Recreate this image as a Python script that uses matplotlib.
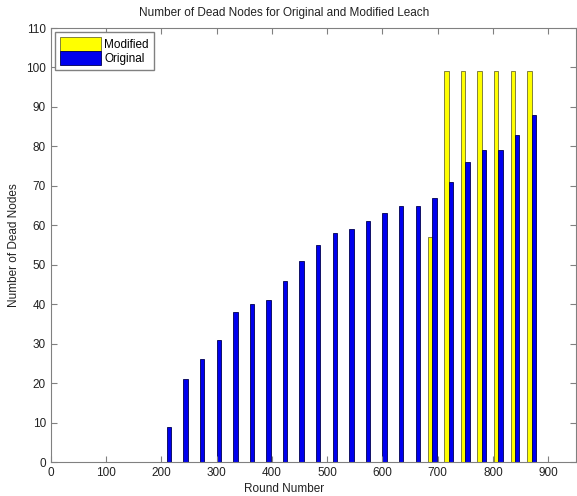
import numpy as np
import matplotlib
matplotlib.use("Agg")
import matplotlib.pyplot as plt

plt.rcParams["font.family"] = ["Liberation Sans", "DejaVu Sans"]

rounds = np.arange(210, 871, 30)
original = [9, 21, 26, 31, 38, 40, 41, 46, 51, 55, 58, 59, 61, 63, 65, 65,
            67, 71, 76, 79, 79, 83, 88]
modified = [0, 0, 0, 0, 0, 0, 0, 0, 0, 0, 0, 0, 0, 0, 0, 0,
            57, 99, 99, 99, 99, 99, 99]

fig = plt.figure(figsize=(5.77, 4.96), dpi=100)
ax = fig.add_axes([0.088, 0.0685, 0.91, 0.875])

w = 8
ax.bar(rounds - w / 2, modified, width=w, color="yellow", edgecolor="#6e6e30",
       linewidth=0.6, label="Modified")
ax.bar(rounds + w / 2, original, width=w, color="#0000ee", edgecolor="#000050",
       linewidth=0.6, label="Original")

ax.set_xlim(0, 950)
ax.set_ylim(0, 110)
ax.set_xticks(np.arange(0, 901, 100))
ax.set_yticks(np.arange(0, 111, 10))
for s in ax.spines.values():
    s.set_color("#808080")
ax.tick_params(direction="in", top=True, right=True, labelsize=8.5, length=4,
               color="#808080", labelcolor="#222222")
ax.set_xlabel("Round Number", fontsize=8.5, color="#222222")
ax.xaxis.set_label_coords(0.445, -0.048)
ax.set_ylabel("Number of Dead Nodes", fontsize=8.5, labelpad=4, color="#222222")
ax.set_title("Number of Dead Nodes for Original and Modified Leach",
             fontsize=8.5, pad=9, color="#222222", x=0.445)

leg = ax.legend(loc="upper left", fontsize=8.5, fancybox=False,
                edgecolor="#808080", handlelength=3.5, handleheight=1.4,
                borderaxespad=0.35, framealpha=1, handletextpad=0.3,
                labelspacing=0.05, borderpad=0.4)

fig.savefig("out.png", dpi=100)
